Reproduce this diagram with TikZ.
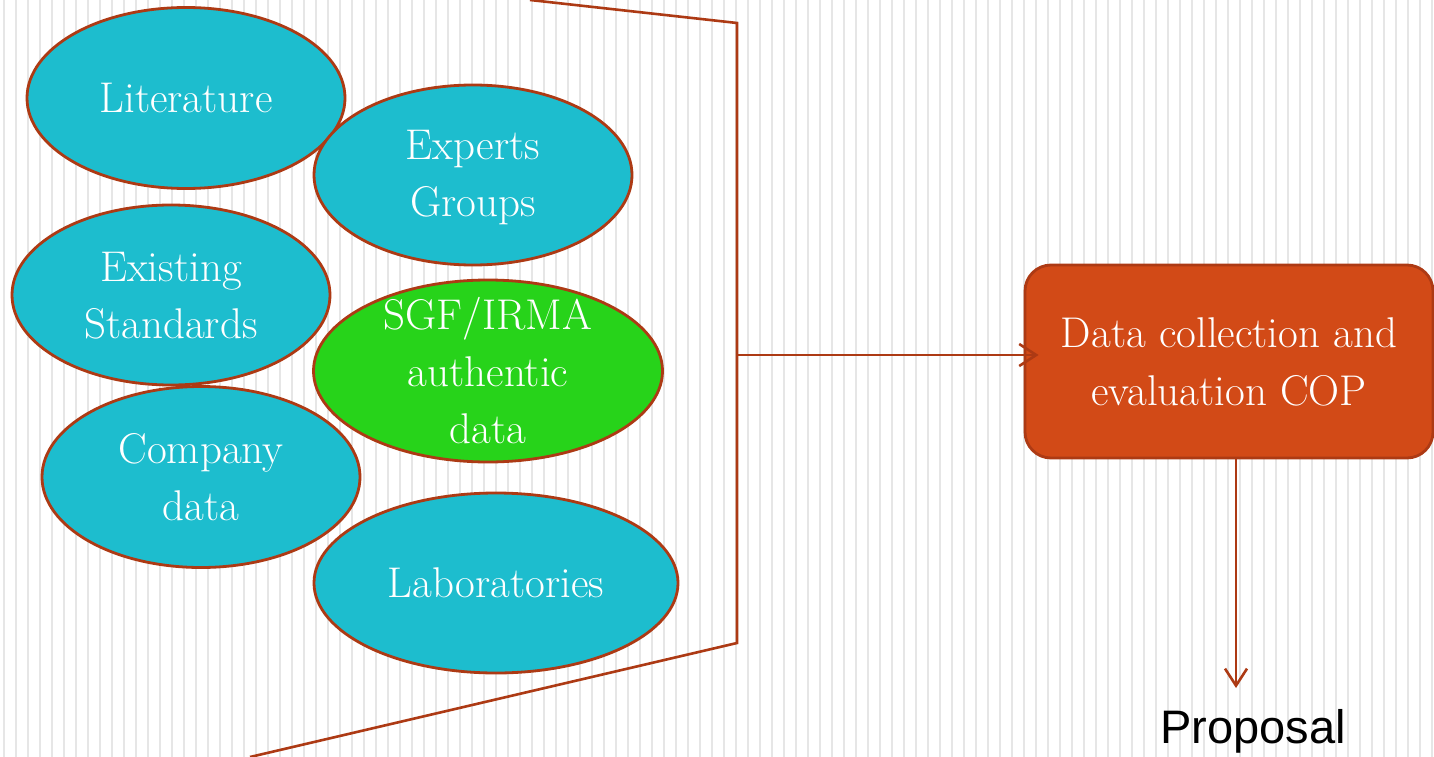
\documentclass[tikz,border=0pt]{standalone}
\usepackage{fontspec}
\newfontfamily\arialfont{Liberation Sans}
\usetikzlibrary{shapes.geometric,arrows.meta}
\definecolor{stripe}{HTML}{E6E6E6}
\definecolor{cyanfill}{HTML}{1DBDCE}
\definecolor{greenfill}{HTML}{27D31A}
\definecolor{edgebrown}{HTML}{AD3A14}
\definecolor{boxfill}{HTML}{D24A17}
\begin{document}
\begin{tikzpicture}[x=1pt,y=-1pt,
  bubble/.style={ellipse,draw=edgebrown,line width=2.8pt,fill=cyanfill,inner sep=0pt,
    text=white,align=center,font=\fontsize{43}{57}\selectfont},
  greenbubble/.style={bubble,fill=greenfill},
  bubbletext/.style={text=white,align=center,font=\fontsize{43}{57}\selectfont,inner sep=0pt},
  procbox/.style={rectangle,rounded corners=26pt,draw=edgebrown,line width=2.8pt,fill=boxfill,
    text=white,align=center,font=\fontsize{43}{58}\selectfont,inner sep=0pt},
  funnel/.style={draw=edgebrown,line width=2.6pt},
  flow/.style={draw=edgebrown,line width=2.6pt,-{Straight Barb[length=17pt,width=22pt,line width=2.6pt]}}
]
\useasboundingbox (0,0) rectangle (1434,757);
\fill[white] (0,0) rectangle (1434,757);
\foreach \i in {0,...,119}{
  \draw[stripe,line width=1.3pt] ({4+12*\i},0) -- ({4+12*\i},757);
}
% funnel
\coordinate (ftl) at (530,0);
\coordinate (ftr) at (737,23);
\coordinate (fbr) at (737,643);
\coordinate (fbl) at (250,757);
\coordinate (fmid) at (737,355);
\draw[funnel,line join=miter] (ftl) -- (ftr) -- (fbr) -- (fbl);
% bubbles
\node[bubble,minimum width=318pt,minimum height=181pt] (lit) at (186,98) {Literature};
\node[bubble,minimum width=318pt,minimum height=180pt] (exp) at (473,175) {};
\node[bubbletext] (exptext) at ([yshift=-3pt]exp.center) {Experts\\Groups};
\node[bubble,minimum width=318pt,minimum height=180pt] (std) at (171,295) {};
\node[bubbletext] (stdtext) at ([yshift=-1pt]std.center) {Existing\\Standards};
\node[greenbubble,minimum width=349pt,minimum height=182pt] (sgf) at (488,371) {};
\node[bubbletext] (sgftext) at (sgf.center) {SGF/IRMA\\authentic\\data};
\node[bubble,minimum width=318pt,minimum height=181pt] (comp) at (201,477) {Company\\data};
\node[bubble,minimum width=364pt,minimum height=180pt] (lab) at (496,583) {Laboratories};
% process box
\node[procbox,minimum width=408pt,minimum height=193pt] (box) at (1229,361.5) {Data collection and\\evaluation COP};
\draw[flow,shorten >=-15pt] (fmid) -- (fmid -| box.west);
\coordinate (pend) at (1236,688);
\draw[flow] (box.south -| pend) -- (pend);
\node[font=\arialfont\fontsize{47}{50}\selectfont,text=black,inner sep=0pt] (prop) at (1253,731) {Proposal};
\end{tikzpicture}
\end{document}
